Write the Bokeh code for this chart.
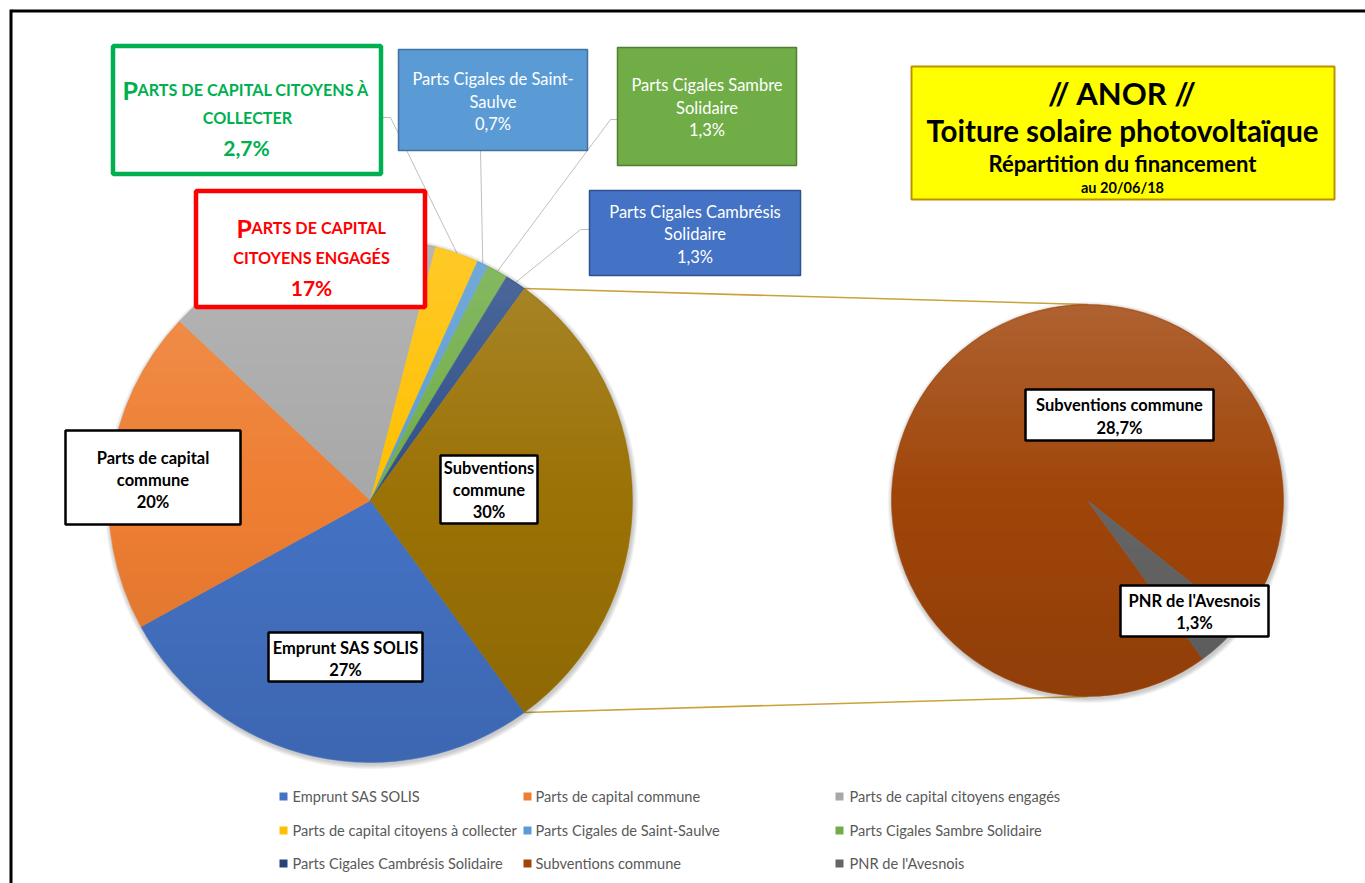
import numpy as np
from bokeh.plotting import figure
from bokeh.models import Range1d
from bokeh.core.properties import value
from bokeh.embed import file_html
from bokeh.resources import INLINE

# ---------------- data ----------------
main_labels = ["Emprunt SAS SOLIS", "Parts de capital commune", "Parts de capital citoyens engagés",
               "Parts de capital citoyens à collecter", "Parts Cigales de Saint-Saulve",
               "Parts Cigales Sambre Solidaire", "Parts Cigales Cambrésis Solidaire"]
main_values = [27, 20, 17, 2.7, 0.7, 1.3, 1.3]
main_colors = ["#4472C4", "#EE7E32", "#A8A8A8", "#FFC000", "#5B9BD5", "#70AD47", "#2F4F8A"]
sub_labels = ["Subventions commune", "PNR de l'Avesnois"]
sub_values = [28.7, 1.3]
sub_colors = ["#A0450A", "#656565"]
other_color = "#9B7206"
title_lines = ["// ANOR //", "Toiture solaire photovoltaïque", "Répartition du financement", "au 20/06/18"]

# ---------------- figure ----------------
W, H = 1365, 883
def X(px): return px
def Y(py): return H - py

FONT = value("Lato")

p = figure(width=W, height=H, x_range=Range1d(0, W), y_range=Range1d(0, H),
           output_backend="svg", toolbar_location=None, min_border=0,
           x_axis_location=None, y_axis_location=None)
p.grid.visible = False
p.outline_line_color = None
p.background_fill_color = "white"
p.border_fill_color = "white"

def pct(v):
    s = f"{v:.1f}".rstrip("0").rstrip(".")
    return s.replace(".", ",") + "%"

def txt(px, py, s, size, color="black", bold=False, align="center", baseline="middle"):
    p.text(x=[X(px)], y=[Y(py)], text=[s], text_font=FONT, text_font_size=f"{size}px",
           text_font_style="bold" if bold else "normal", text_color=color,
           text_align=align, text_baseline=baseline)

def box(x0, y0, x1, y1, fill, line, lw):
    p.rect(x=(X(x0) + X(x1)) / 2, y=(Y(y0) + Y(y1)) / 2, width=x1 - x0, height=y1 - y0,
           fill_color=fill, line_color=line, line_width=lw)

# outer frame
p.line([X(11), X(1380)], [Y(10.5), Y(10.5)], line_color="black", line_width=3)
p.line([X(10.5), X(10.5)], [Y(9), Y(900)], line_color="black", line_width=3)

# geometry
cx1, cy1, R1 = X(370), Y(500), 262
cx2, cy2, R2 = X(1087), Y(500), 196

vals = np.array(main_values, dtype=float)
other = float(sum(sub_values))
total = vals.sum() + other
half = other / total * np.pi
cum = np.concatenate([[0.0], np.cumsum(vals)[:-1]])
end_a = -half - cum / total * 2 * np.pi
start_a = end_a - vals / total * 2 * np.pi
mid_a = (start_a + end_a) / 2

sv = np.array(sub_values, dtype=float)
scum = np.concatenate([[0.0], np.cumsum(sv)[:-1]])
s_end = -half - scum / other * 2 * np.pi
s_start = s_end - sv / other * 2 * np.pi

# connector lines between pies
p.segment(x0=[cx1 + R1 * np.cos(half), cx1 + R1 * np.cos(half)],
          y0=[cy1 + R1 * np.sin(half), cy1 - R1 * np.sin(half)],
          x1=[cx2, cx2], y1=[cy2 + R2, cy2 - R2], line_color="#C9A33A", line_width=1.6)

# leader lines for callouts
leaders = {3: [(381, 117), (390, 117)], 4: [(480, 150)], 5: [(617, 119), (610, 119)], 6: [(589, 229), (580, 229)]}
xs, ys = [], []
for i, pts in leaders.items():
    lx = [X(a) for a, b in pts] + [cx1 + R1 * np.cos(mid_a[i])]
    ly = [Y(b) for a, b in pts] + [cy1 + R1 * np.sin(mid_a[i])]
    xs.append(lx); ys.append(ly)
p.multi_line(xs=xs, ys=ys, line_color="#BFBFBF", line_width=1)

# soft shadows
for (cx, cy, R) in [(cx1, cy1, R1), (cx2, cy2, R2)]:
    for k in range(1, 7):
        p.circle(x=cx + 1, y=cy - 2, radius=R + k * 0.8, fill_color="black", fill_alpha=0.035, line_color=None)

# main pie
p.wedge(x=cx1, y=cy1, radius=R1, start_angle=list(start_a), end_angle=list(end_a),
        fill_color=main_colors, line_color=main_colors, line_width=0.5)
p.wedge(x=cx1, y=cy1, radius=R1, start_angle=-half, end_angle=half,
        fill_color=other_color, line_color=other_color, line_width=0.5)
# second pie
p.wedge(x=cx2, y=cy2, radius=R2, start_angle=list(s_start), end_angle=list(s_end),
        fill_color=sub_colors, line_color=sub_colors, line_width=0.5)

# vertical light/dark shading overlay
def overlay(cx, cy, R, top_a=0.16, bot_a=0.10):
    n = int(2 * R)
    yy, xx = np.mgrid[0:n, 0:n] + 0.5
    dx = xx - R
    dy = yy - R
    dist = np.sqrt(dx ** 2 + dy ** 2)
    mask = np.clip(R - dist, 0, 1)
    t = dy / R
    img = np.zeros((n, n, 4), dtype=np.uint8)
    light = t > 0
    img[..., 0] = np.where(light, 255, 0)
    img[..., 1] = np.where(light, 255, 0)
    img[..., 2] = np.where(light, 255, 0)
    a = np.where(light, top_a * t, bot_a * (-t)) * mask
    img[..., 3] = (np.clip(a, 0, 1) * 255).astype(np.uint8)
    rgba = img.view(dtype=np.uint32).reshape((n, n))
    p.image_rgba(image=[rgba], x=cx - R, y=cy - R, dw=2 * R, dh=2 * R)

overlay(cx1, cy1, R1)
overlay(cx2, cy2, R2)

# ---------------- labels ----------------
LBL = 16.5
plain = [
    ((65, 430, 240, 524), ["Parts de capital", "commune", pct(main_values[1])], [457, 479, 501]),
    ((268, 632, 422, 681), ["Emprunt SAS SOLIS", pct(main_values[0])], [647, 669]),
    ((440, 455, 537, 523), ["Subventions", "commune", pct(other)], [467, 489, 511]),
    ((1025, 389, 1213, 440), [sub_labels[0], pct(sub_values[0])], [404, 427]),
    ((1120, 585, 1268, 636), [sub_labels[1], pct(sub_values[1])], [600, 622]),
]
for (x0, y0, x1, y1), lines, lys in plain:
    box(x0, y0, x1, y1, "white", "black", 2.5)
    for s, ly in zip(lines, lys):
        txt((x0 + x1) / 2, ly, s, LBL, "black", bold=True)

coloured = [
    ((398, 49, 587, 150), "#5B9BD5", "#41719C", ["Parts Cigales de Saint-", "Saulve", pct(main_values[4])], [78, 101, 123]),
    ((617, 47, 796, 165), "#70AD47", "#507E32", ["Parts Cigales Sambre", "Solidaire", pct(main_values[5])], [84, 107, 129]),
    ((589, 190, 800, 275), "#4472C4", "#2F528F", ["Parts Cigales Cambrésis", "Solidaire", pct(main_values[6])], [211, 233, 256]),
]
for (x0, y0, x1, y1), fill, line, lines, lys in coloured:
    box(x0, y0, x1, y1, fill, line, 1.5)
    for s, ly in zip(lines, lys):
        txt((x0 + x1) / 2, ly, s, 16.5, "white")

GREEN, RED = "#00B050", "#FF0000"
SC = 16.2
box(112.5, 45.5, 380.5, 173.5, "white", GREEN, 4.5)
txt(122, 89, "P", 25, GREEN, bold=True, align="left", baseline="alphabetic")
txt(137, 89, "ARTS DE CAPITAL CITOYENS À", SC, GREEN, bold=True, align="left", baseline="alphabetic")
txt(247, 117, "COLLECTER", SC, GREEN, bold=True, baseline="alphabetic")
txt(246, 147, pct(main_values[3]), 21, GREEN, bold=True, baseline="alphabetic")

box(195.5, 190.5, 424.5, 306.5, "white", RED, 4.5)
txt(236, 227, "P", 25, RED, bold=True, align="left", baseline="alphabetic")
txt(251, 227, "ARTS DE CAPITAL", SC, RED, bold=True, align="left", baseline="alphabetic")
txt(311, 257, "CITOYENS ENGAGÉS", SC, RED, bold=True, baseline="alphabetic")
txt(311, 287, pct(main_values[2]), 21, RED, bold=True, baseline="alphabetic")

# ---------------- title ----------------
box(911, 66, 1334, 199, "#FFFF00", "#BF9000", 2)
tsizes = [31, 29.5, 22, 14.5]
tys = [92, 130, 163, 187]
for s, sz, ty in zip(title_lines, tsizes, tys):
    txt(1122, ty, s, sz, "black", bold=True)

# ---------------- legend ----------------
leg_labels = main_labels + sub_labels
leg_colors = main_colors[:6] + ["#264478"] + sub_colors
col_sq = [283, 527, 839]
col_tx = [292, 535, 849]
row_y = [796, 830, 863]
for k, (lab, col) in enumerate(zip(leg_labels, leg_colors)):
    r, c = divmod(k, 3)
    p.rect(x=X(col_sq[c]), y=Y(row_y[r]), width=8, height=8, fill_color=col, line_color=None)
    txt(col_tx[c], row_y[r], lab, 14.6, "#595959", align="left")

open("out.html", "w").write(file_html(p, INLINE))
